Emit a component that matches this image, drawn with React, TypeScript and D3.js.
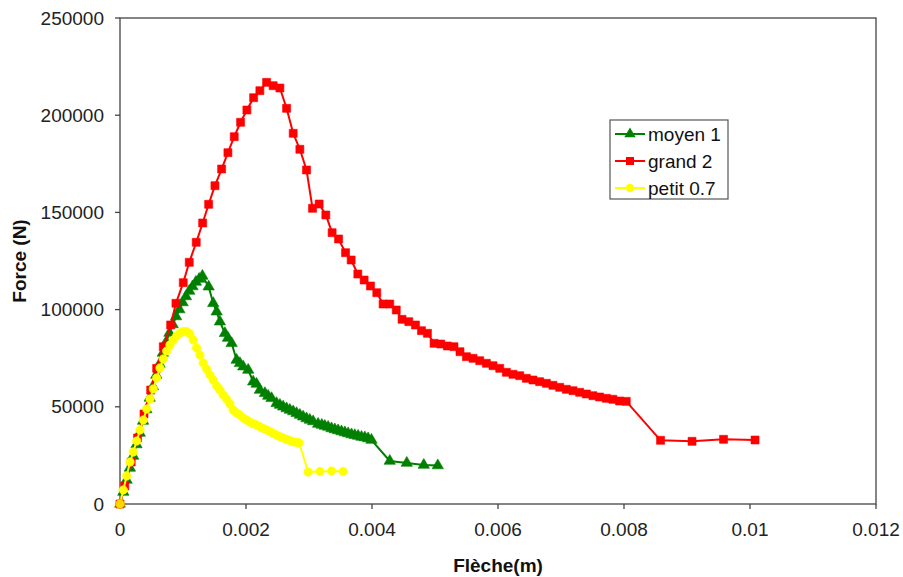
import React from "react";
import * as d3 from "d3";

const W = 903;
const H = 577;

const xTicks = [0, 0.002, 0.004, 0.006, 0.008, 0.01, 0.012];
const xTickLabels = ["0", "0.002", "0.004", "0.006", "0.008", "0.01", "0.012"];
const yTicks = [0, 50000, 100000, 150000, 200000, 250000];
const yTickLabels = ["0", "50000", "100000", "150000", "200000", "250000"];

const seriesNames = ["moyen 1", "grand 2", "petit 0.7"];

// moyen 1 (green, triangles)
const moyenX = [
  0, 0.0000523, 0.000105, 0.000157, 0.000209, 0.000262, 0.000314, 0.000366, 0.000419, 0.000471,
  0.000523, 0.000576, 0.000628, 0.00068, 0.000733, 0.000785, 0.000837, 0.00089, 0.000942, 0.000994,
  0.001047, 0.001099, 0.001151, 0.001204, 0.001256, 0.001308, 0.001407, 0.00148, 0.001534, 0.001586,
  0.001665, 0.001713, 0.001772, 0.001851, 0.001903, 0.001956, 0.002035, 0.002114, 0.002168, 0.00222,
  0.0023, 0.002352, 0.002406, 0.002485, 0.002538, 0.00259, 0.002644, 0.002696, 0.002749, 0.002803,
  0.002855, 0.002907, 0.002961, 0.003013, 0.003066, 0.003145, 0.003204, 0.003251, 0.003304, 0.003358,
  0.00341, 0.003462, 0.003516, 0.003569, 0.003621, 0.003675, 0.003727, 0.00378, 0.003833, 0.003886,
  0.003938, 0.003992, 0.004282, 0.004552, 0.004822, 0.005044,
];
const moyenY = [
  0, 6170, 12350, 18520, 24690, 30610, 36520, 42700, 48610, 54530,
  60440, 66360, 72020, 77670, 83330, 87960, 92340, 96450, 100050, 103650,
  106740, 109570, 111880, 114200, 115740, 117280, 111780, 103240, 98920, 93780,
  87810, 85390, 82660, 74070, 72380, 70630, 68930, 62910, 61730, 58640,
  56950, 55560, 54370, 51800, 50930, 50050, 49130, 48350, 47580, 46660,
  45780, 44910, 43980, 43210, 42440, 41150, 40640, 40120, 39610, 38840,
  38320, 37810, 37290, 36780, 36270, 35750, 35340, 34980, 34460, 34210,
  33690, 32920, 22120, 21090, 20060, 19800,
];

// grand 2 (red, squares)
const grandX = [
  0, 0.000076, 0.000178, 0.000279, 0.000381, 0.000487, 0.000582, 0.000687, 0.000804, 0.000888,
  0.001004, 0.001099, 0.00121, 0.001312, 0.001407, 0.001507, 0.001613, 0.001713, 0.001813, 0.001914,
  0.002014, 0.002121, 0.00222, 0.002327, 0.002431, 0.002538, 0.002644, 0.002749, 0.002855, 0.002961,
  0.003056, 0.003161, 0.003267, 0.003367, 0.003469, 0.00358, 0.003669, 0.003775, 0.003875, 0.003976,
  0.004076, 0.004176, 0.004282, 0.004385, 0.004477, 0.004584, 0.00469, 0.004785, 0.00488, 0.004985,
  0.005091, 0.005197, 0.005302, 0.005397, 0.005499, 0.005604, 0.00571, 0.005816, 0.005921, 0.006027,
  0.006133, 0.006238, 0.006344, 0.00645, 0.006555, 0.006661, 0.006768, 0.006872, 0.006979, 0.007085,
  0.00719, 0.007296, 0.007402, 0.007507, 0.007613, 0.007719, 0.007824, 0.00793, 0.008036, 0.00858,
  0.00908, 0.00958, 0.01008,
];
const grandY = [
  0, 9260, 21600, 33950, 46300, 58640, 69800, 80900, 92100, 103240,
  113840, 124330, 134620, 144550, 154170, 163730, 172320, 180710, 188940, 196350,
  202670, 209000, 212600, 216900, 215170, 213990, 203550, 190690, 182460, 171810,
  152110, 154320, 148660, 139560, 136320, 129270, 125510, 118310, 115220, 112140,
  108690, 102880, 102880, 99800, 95010, 93780, 92080, 89150, 87810, 82660,
  82300, 81280, 80920, 78340, 75770, 74950, 73710, 72380, 71140, 69800,
  67750, 66720, 66000, 64660, 63790, 62910, 62090, 61060, 60030, 59000,
  58280, 57460, 56580, 55710, 55040, 54370, 53860, 52980, 52800, 32770,
  32250, 33280, 32920,
];

// petit 0.7 (yellow, circles)
const petitX = [
  0, 0.0000523, 0.000106, 0.000159, 0.000211, 0.000265, 0.000317, 0.00037, 0.000423, 0.000476,
  0.000528, 0.000582, 0.000634, 0.000687, 0.000741, 0.000793, 0.000845, 0.000899, 0.000952, 0.001004,
  0.001058, 0.00111, 0.001163, 0.001216, 0.001269, 0.001321, 0.001375, 0.001427, 0.00148, 0.001534,
  0.001586, 0.001638, 0.001692, 0.001745, 0.001797, 0.001851, 0.001903, 0.001956, 0.00201, 0.002062,
  0.002114, 0.002168, 0.00222, 0.002273, 0.002327, 0.002379, 0.002431, 0.002485, 0.002538, 0.00259,
  0.002644, 0.002696, 0.002749, 0.002803, 0.002844, 0.002986, 0.003172, 0.003358, 0.003542,
];
const petitY = [
  0, 7200, 14400, 21600, 26750, 32400, 38070, 43210, 48870, 54010,
  59160, 64810, 69960, 74590, 78700, 81790, 84360, 86420, 87960, 88740,
  88740, 87450, 84360, 80250, 76650, 72530, 69440, 66360, 63790, 60700,
  58640, 56070, 54010, 51440, 48350, 46810, 45780, 44240, 43210, 42180,
  41410, 40640, 39760, 38840, 38070, 37290, 36380, 35490, 34620, 33950,
  33280, 32660, 32050, 31640, 31380, 16460, 16720, 16980, 16720,
];

const colors = ["#008000", "#ff0000", "#ffff00"];
const symbols = [d3.symbolTriangle, d3.symbolSquare, d3.symbolCircle];
const symbolSizes = [56, 64, 56];

const FONT = "'Liberation Sans', Arial, sans-serif";

export default function App() {
  const left = 120, right = 876, top = 18, bottom = 504;
  const x = d3.scaleLinear().domain([0, 0.012]).range([left, right]);
  const y = d3.scaleLinear().domain([0, 250000]).range([bottom, top]);

  const series = [
    { xs: moyenX, ys: moyenY },
    { xs: grandX, ys: grandY },
    { xs: petitX, ys: petitY },
  ];

  const line = d3
    .line<[number, number]>()
    .x((d) => x(d[0]))
    .y((d) => y(d[1]));

  const legendX = 610, legendY = 120, legendW = 118, legendH = 79;
  const legendRows = [134, 161, 188];

  return (
    <svg
      width={W}
      height={H}
      style={{ position: "absolute", left: 0, top: 0, background: "#fff" }}
    >
      <rect x={0} y={0} width={W} height={H} fill="#fff" />
      <rect
        x={left}
        y={top}
        width={right - left}
        height={bottom - top}
        fill="none"
        stroke="#444"
        strokeWidth={1.3}
      />
      {yTicks.map((t, i) => (
        <g key={"yt" + i}>
          <line x1={left - 5} x2={left} y1={y(t)} y2={y(t)} stroke="#444" strokeWidth={1.3} />
          <text
            x={left - 16}
            y={y(t)}
            dy="0.35em"
            textAnchor="end"
            fontFamily={FONT}
            fontSize={19}
            fill="#222"
          >
            {yTickLabels[i]}
          </text>
        </g>
      ))}
      {xTicks.map((t, i) => (
        <g key={"xt" + i}>
          <line x1={x(t)} x2={x(t)} y1={bottom} y2={bottom + 5} stroke="#444" strokeWidth={1.3} />
          <text
            x={x(t)}
            y={bottom + 32}
            textAnchor="middle"
            fontFamily={FONT}
            fontSize={19}
            fill="#222"
          >
            {xTickLabels[i]}
          </text>
        </g>
      ))}
      <text
        x={498}
        y={572}
        textAnchor="middle"
        fontFamily={FONT}
        fontWeight="bold"
        fontSize={19}
        fill="#111"
      >
        Flèche(m)
      </text>
      <text
        transform={`translate(26, ${(top + bottom) / 2}) rotate(-90)`}
        textAnchor="middle"
        fontFamily={FONT}
        fontWeight="bold"
        fontSize={19}
        fill="#111"
      >
        Force (N)
      </text>
      {series.map((s, si) => {
        const pts: [number, number][] = s.xs.map((v, i) => [v, s.ys[i]]);
        const sym = d3.symbol().type(symbols[si]).size(symbolSizes[si])();
        return (
          <g key={"s" + si}>
            <path d={line(pts) || ""} fill="none" stroke={colors[si]} strokeWidth={2} />
            {pts.map((p, i) => (
              <path
                key={i}
                d={sym || ""}
                transform={`translate(${x(p[0])},${y(p[1])})`}
                fill={colors[si]}
                stroke={si === 0 && i === 0 ? "#e0a000" : colors[si]}
                strokeWidth={0.6}
              />
            ))}
          </g>
        );
      })}
      {/* origin marker drawn with a gold edge as in the reference */}
      <circle cx={x(0)} cy={y(0)} r={4.5} fill="#ffd700" stroke="#e0a000" strokeWidth={0.8} />
      <rect
        x={legendX}
        y={legendY}
        width={legendW}
        height={legendH}
        fill="#fff"
        stroke="#555"
        strokeWidth={1.2}
      />
      {seriesNames.map((name, i) => {
        const sym = d3.symbol().type(symbols[i]).size(symbolSizes[i])();
        const ly = legendRows[i];
        return (
          <g key={"lg" + i}>
            <line x1={615} x2={645} y1={ly} y2={ly} stroke={colors[i]} strokeWidth={2} />
            <path d={sym || ""} transform={`translate(630,${ly})`} fill={colors[i]} />
            <text
              x={648}
              y={ly}
              dy="0.35em"
              fontFamily={FONT}
              fontSize={19}
              fill="#111"
            >
              {name}
            </text>
          </g>
        );
      })}
    </svg>
  );
}
